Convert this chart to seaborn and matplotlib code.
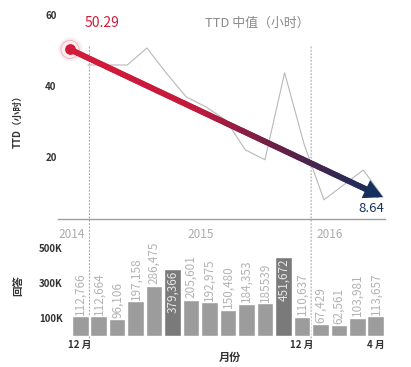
import numpy as np
import pandas as pd
import matplotlib
matplotlib.use("Agg")
import matplotlib.pyplot as plt
import seaborn as sns
from matplotlib.collections import LineCollection
from matplotlib.colors import LinearSegmentedColormap
from matplotlib.patches import ConnectionPatch

# --- data ---
months = ["2014-12", "2015-01", "2015-02", "2015-03", "2015-04", "2015-05",
          "2015-06", "2015-07", "2015-08", "2015-09", "2015-10", "2015-11",
          "2015-12", "2016-01", "2016-02", "2016-03", "2016-04"]
answers = [112766, 112664, 96106, 197158, 286475, 379366, 205601, 192975,
           150480, 184353, 185539, 451672, 110637, 67429, 62561, 103981, 113657]
answer_labels = ["112,766", "112,664", "96,106", "197,158", "286,475", "379,366",
                 "205,601", "192,975", "150,480", "184,353", "185539", "451,672",
                 "110,637", "67,429", "62,561", "103,981", "113,657"]
highlight_months = ["2015-05", "2015-11"]
tick_months = ["2014-12", "2015-12", "2016-04"]
tick_labels = ["12 月", "12 月", "4 月"]

# monthly TTD median (hours), 2015-01 .. 2016-04
ttd_monthly = [45.9, 45.9, 45.9, 50.7, 43.5, 36.9, 34.1, 30.4,
               22.0, 19.2, 43.7, 23.4, 7.9, 12.1, 16.3, 8.7]
ttd_start = 50.29
ttd_end = 8.64

RED = "#d41a3a"
NAVY = "#14305c"

sns.set_style("white")
plt.rcParams["font.family"] = ["Noto Sans CJK SC", "DejaVu Sans"]

fig = plt.figure(figsize=(4.11, 3.67), dpi=100)
W, H = 411, 367

# --- top panel: TTD trend ---
ax_top = fig.add_axes([58 / W, 1 - 219 / H, 327 / W, 209 / H])
ax_top.set_xlim(-1.2, 16.5)
ax_top.set_ylim(2.5, 61.4)

ttd_x = np.linspace(0.42, 16.39, len(ttd_monthly))
sns.lineplot(x=ttd_x, y=ttd_monthly, ax=ax_top, color="#b8b8b8", lw=0.8)

# gradient trend arrow
x0, x1 = -0.55, 16.39
t = np.linspace(0, 1, 120)
tx = x0 + (x1 - 0.3 - x0) * t
ty = ttd_start + (ttd_end - ttd_start) * (tx - x0) / (x1 - x0)
pts = np.column_stack([tx, ty]).reshape(-1, 1, 2)
segs = np.concatenate([pts[:-1], pts[1:]], axis=1)
cmap = LinearSegmentedColormap.from_list(
    "trend", [(0, RED), (0.4, "#c41a3c"), (0.72, "#5a2148"), (1, NAVY)])
lc = LineCollection(segs, colors=cmap(t[:-1]), linewidth=4.2, capstyle="round",
                    antialiased=True, zorder=3)
ax_top.add_collection(lc)
ax_top.annotate("", xy=(x1, ttd_end),
                xytext=(x1 - 0.8, ttd_start + (ttd_end - ttd_start) * (x1 - 0.8 - x0) / (x1 - x0)),
                arrowprops=dict(arrowstyle="-|>,head_width=0.42,head_length=0.8",
                                color=NAVY, lw=0, mutation_scale=17, shrinkA=0, shrinkB=0),
                zorder=4)

# start marker with halo
ax_top.scatter([x0], [ttd_start], s=300, color=RED, alpha=0.07, lw=0, zorder=4)
ax_top.scatter([x0], [ttd_start], s=170, facecolor="none", edgecolor=RED, alpha=0.25, lw=0.8, zorder=4)
ax_top.scatter([x0], [ttd_start], s=60, color=RED, lw=0, zorder=5)

ax_top.text(0.25, 57.7, f"{ttd_start:.2f}", color=RED, fontsize=10, ha="left", va="center")
ax_top.text(6.75, 57.7, "TTD 中值（小时）", color="#8a8a8a", fontsize=9.3, ha="left", va="center")
ax_top.text(16.45, 5.4, f"{ttd_end:.2f}", color=NAVY, fontsize=9.5, ha="right", va="center")

ax_top.set_yticks([20, 40, 60])
ax_top.set_yticklabels(["20", "40", "60"], fontsize=7, fontweight="bold", color="#333333")
ax_top.set_xticks([])
ax_top.tick_params(axis="y", length=0, pad=1)
for side in ["top", "right", "left"]:
    ax_top.spines[side].set_visible(False)
ax_top.spines["bottom"].set_color("#a0a0a0")
ax_top.spines["bottom"].set_linewidth(1.0)
ax_top.set_xlabel("")
ax_top.set_ylabel("")
ax_top.patch.set_alpha(0)

# --- bottom panel: monthly answers ---
ax_bot = fig.add_axes([71 / W, 1 - 336 / H, 314 / W, 92 / H])
df = pd.DataFrame({"month": months, "answers": answers})
df["kind"] = np.where(df["month"].isin(highlight_months), "hi", "normal")
sns.barplot(data=df, x="month", y="answers", hue="kind", order=months,
            palette={"normal": "#9c9c9c", "hi": "#7a7a7a"}, dodge=False,
            width=0.9, legend=False, ax=ax_bot, saturation=1)
ax_bot.set_xlim(-0.5, len(months) - 0.5)
ax_bot.set_ylim(0, 523000)

for i, (v, lab) in enumerate(zip(answers, answer_labels)):
    if months[i] in highlight_months:
        ax_bot.text(i, v - 9000, lab, rotation=90, ha="center", va="top",
                    fontsize=8.5, color="#e6e6e6")
    else:
        ax_bot.text(i, v + 8000, lab, rotation=90, ha="center", va="bottom",
                    fontsize=8.5, color="#b3b3b3")

ax_bot.set_yticks([100000, 300000, 500000])
ax_bot.set_yticklabels(["100K", "300K", "500K"], fontsize=7, fontweight="bold", color="#333333")
ax_bot.set_xticks([months.index(m) for m in tick_months])
ax_bot.set_xticklabels(tick_labels, fontsize=7, fontweight="bold", color="#333333")
ax_bot.tick_params(axis="y", length=0, pad=6)
ax_bot.tick_params(axis="x", length=0, pad=3)
sns.despine(ax=ax_bot, left=True, bottom=True)
ax_bot.set_xlabel("")
ax_bot.set_ylabel("")
ax_bot.patch.set_alpha(0)

# year labels
ax_bot.text(-1.2, 575000, "2014", color="#ababab", fontsize=8.5, ha="left", va="center", clip_on=False)
ax_bot.text(6.5, 575000, "2015", color="#ababab", fontsize=8.5, ha="center", va="center", clip_on=False)
ax_bot.text(12.8, 575000, "2016", color="#ababab", fontsize=8.5, ha="left", va="center", clip_on=False)

# year separators (end of December)
for m in ["2014-12", "2015-12"]:
    xb = months.index(m) + 0.5
    con = ConnectionPatch(xyA=(xb, 51), coordsA=ax_top.transData,
                          xyB=(xb, -20000), coordsB=ax_bot.transData,
                          color="#a8a8a8", lw=0.8, linestyle=(0, (1, 2)), zorder=0)
    fig.add_artist(con)

# axis titles
fig.text(18 / W, 1 - 119 / H, "TTD（小时）", rotation=90, ha="center", va="center",
         fontsize=7, fontweight="bold", color="#333333")
fig.text(18 / W, 1 - 286 / H, "回答", rotation=90, ha="center", va="center",
         fontsize=7.5, fontweight="bold", color="#333333")
fig.text(230 / W, 1 - 357 / H, "月份", ha="center", va="center",
         fontsize=8, fontweight="bold", color="#333333")

fig.savefig("out.png", dpi=100)
